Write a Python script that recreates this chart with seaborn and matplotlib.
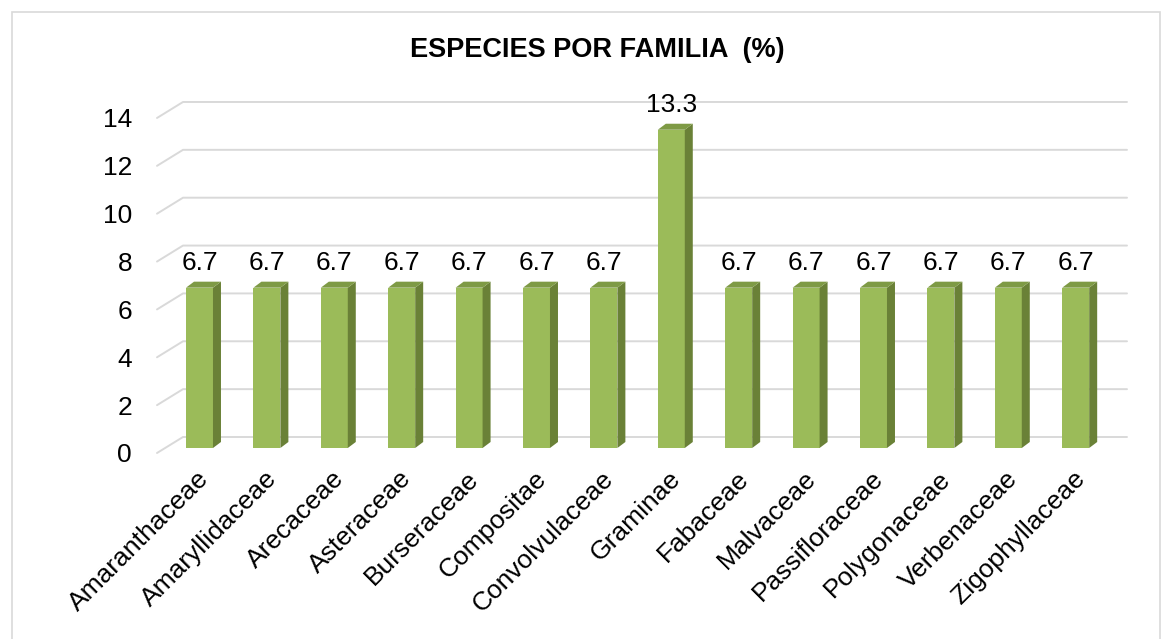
import numpy as np
import pandas as pd
import matplotlib
matplotlib.use("Agg")
import matplotlib.pyplot as plt
import seaborn as sns
from matplotlib.patches import Polygon, Rectangle

# chart data
familias = ["Amaranthaceae", "Amaryllidaceae", "Arecaceae", "Asteraceae",
            "Burseraceae", "Compositae", "Convolvulaceae", "Graminae",
            "Fabaceae", "Malvaceae", "Passifloraceae", "Polygonaceae",
            "Verbenaceae", "Zigophyllaceae"]
porcentaje = [6.7, 6.7, 6.7, 6.7, 6.7, 6.7, 6.7, 13.3, 6.7, 6.7, 6.7, 6.7, 6.7, 6.7]
y_ticks = [0, 2, 4, 6, 8, 10, 12, 14]
titulo = "ESPECIES POR FAMILIA  (%)"

df = pd.DataFrame({"familia": familias, "pct": porcentaje})

sns.set_theme(style="white")
plt.rcParams["font.family"] = ["Liberation Sans", "DejaVu Sans"]
plt.rcParams["text.color"] = "black"
plt.rcParams["xtick.color"] = "black"
plt.rcParams["ytick.color"] = "black"

W, H = 1172, 639
fig = plt.figure(figsize=(W / 100, H / 100), dpi=100)

# pixel geometry of the bar plane
cx0, sx = 199.5, 67.4      # first category centre, px per category
y0, sy = 448.0, 23.93      # y=0 pixel row, px per unit
xlim = (-0.65, 13.8)
ylim = (-0.3, 14.6)
left = cx0 + xlim[0] * sx
right = cx0 + xlim[1] * sx
bottom = y0 - ylim[0] * sy
top = y0 - ylim[1] * sy
ax = fig.add_axes([left / W, (H - bottom) / H, (right - left) / W, (bottom - top) / H])

sns.barplot(data=df, x="familia", y="pct", color="#9bbb59", saturation=1,
            width=0.40, ax=ax, zorder=3)
ax.set_xlim(*xlim)
ax.set_ylim(*ylim)

# 3d depth of bars (in data units)
ddx, ddy = 8 / sx, 6 / sy
for p in ax.patches:
    x, w, h = p.get_x(), p.get_width(), p.get_height()
    p.set_edgecolor("none")
    side = Polygon([(x + w, 0), (x + w + ddx, ddy), (x + w + ddx, h + ddy), (x + w, h)],
                   closed=True, facecolor="#6a8137", edgecolor="none", zorder=3)
    topf = Polygon([(x, h), (x + ddx, h + ddy), (x + w + ddx, h + ddy), (x + w, h)],
                   closed=True, facecolor="#7e9a45", edgecolor="none", zorder=3)
    ax.add_patch(side)
    ax.add_patch(topf)
    ax.text(x + w / 2, h + 1.05, f"{h:.1f}", ha="center", va="center",
            fontsize=19, color="black", zorder=4)

# gridlines: front edge -> back wall
fx, fy = -8 / sx, -5 / sy
bx, by = 18 / sx, 11 / sy
gx_front = (157 - cx0) / sx
gx_right = (1127 - cx0) / sx
for v in y_ticks:
    ax.plot([gx_front, gx_front + (bx - fx), gx_right],
            [v + fy, v + by, v + by], color="#d9d9d9", lw=1.4, zorder=1,
            clip_on=False)

ax.set_yticks([v + fy for v in y_ticks])
ax.set_yticklabels([str(v) for v in y_ticks], fontsize=19)
ax.tick_params(axis="y", length=0, pad=17)

ax.set_xticks(np.arange(len(familias)) + fx + 0.08)
ax.set_xticklabels(familias, rotation=45, ha="right", rotation_mode="anchor", fontsize=19)
ax.tick_params(axis="x", length=0, pad=8)
ax.set_xlabel("")
ax.set_ylabel("")
for s in ax.spines.values():
    s.set_visible(False)
ax.patch.set_alpha(0)

fig.text(597 / W, 1 - 50 / H, titulo, ha="center", va="center",
         fontsize=19.5, fontweight="bold", color="black")

fig.patches.append(Rectangle((12 / W, -0.1), (1160 - 12) / W, 1.1 - 12 / H,
                             transform=fig.transFigure, fill=False,
                             edgecolor="#d9d9d9", lw=1.2))

fig.savefig("out.png", dpi=100)
